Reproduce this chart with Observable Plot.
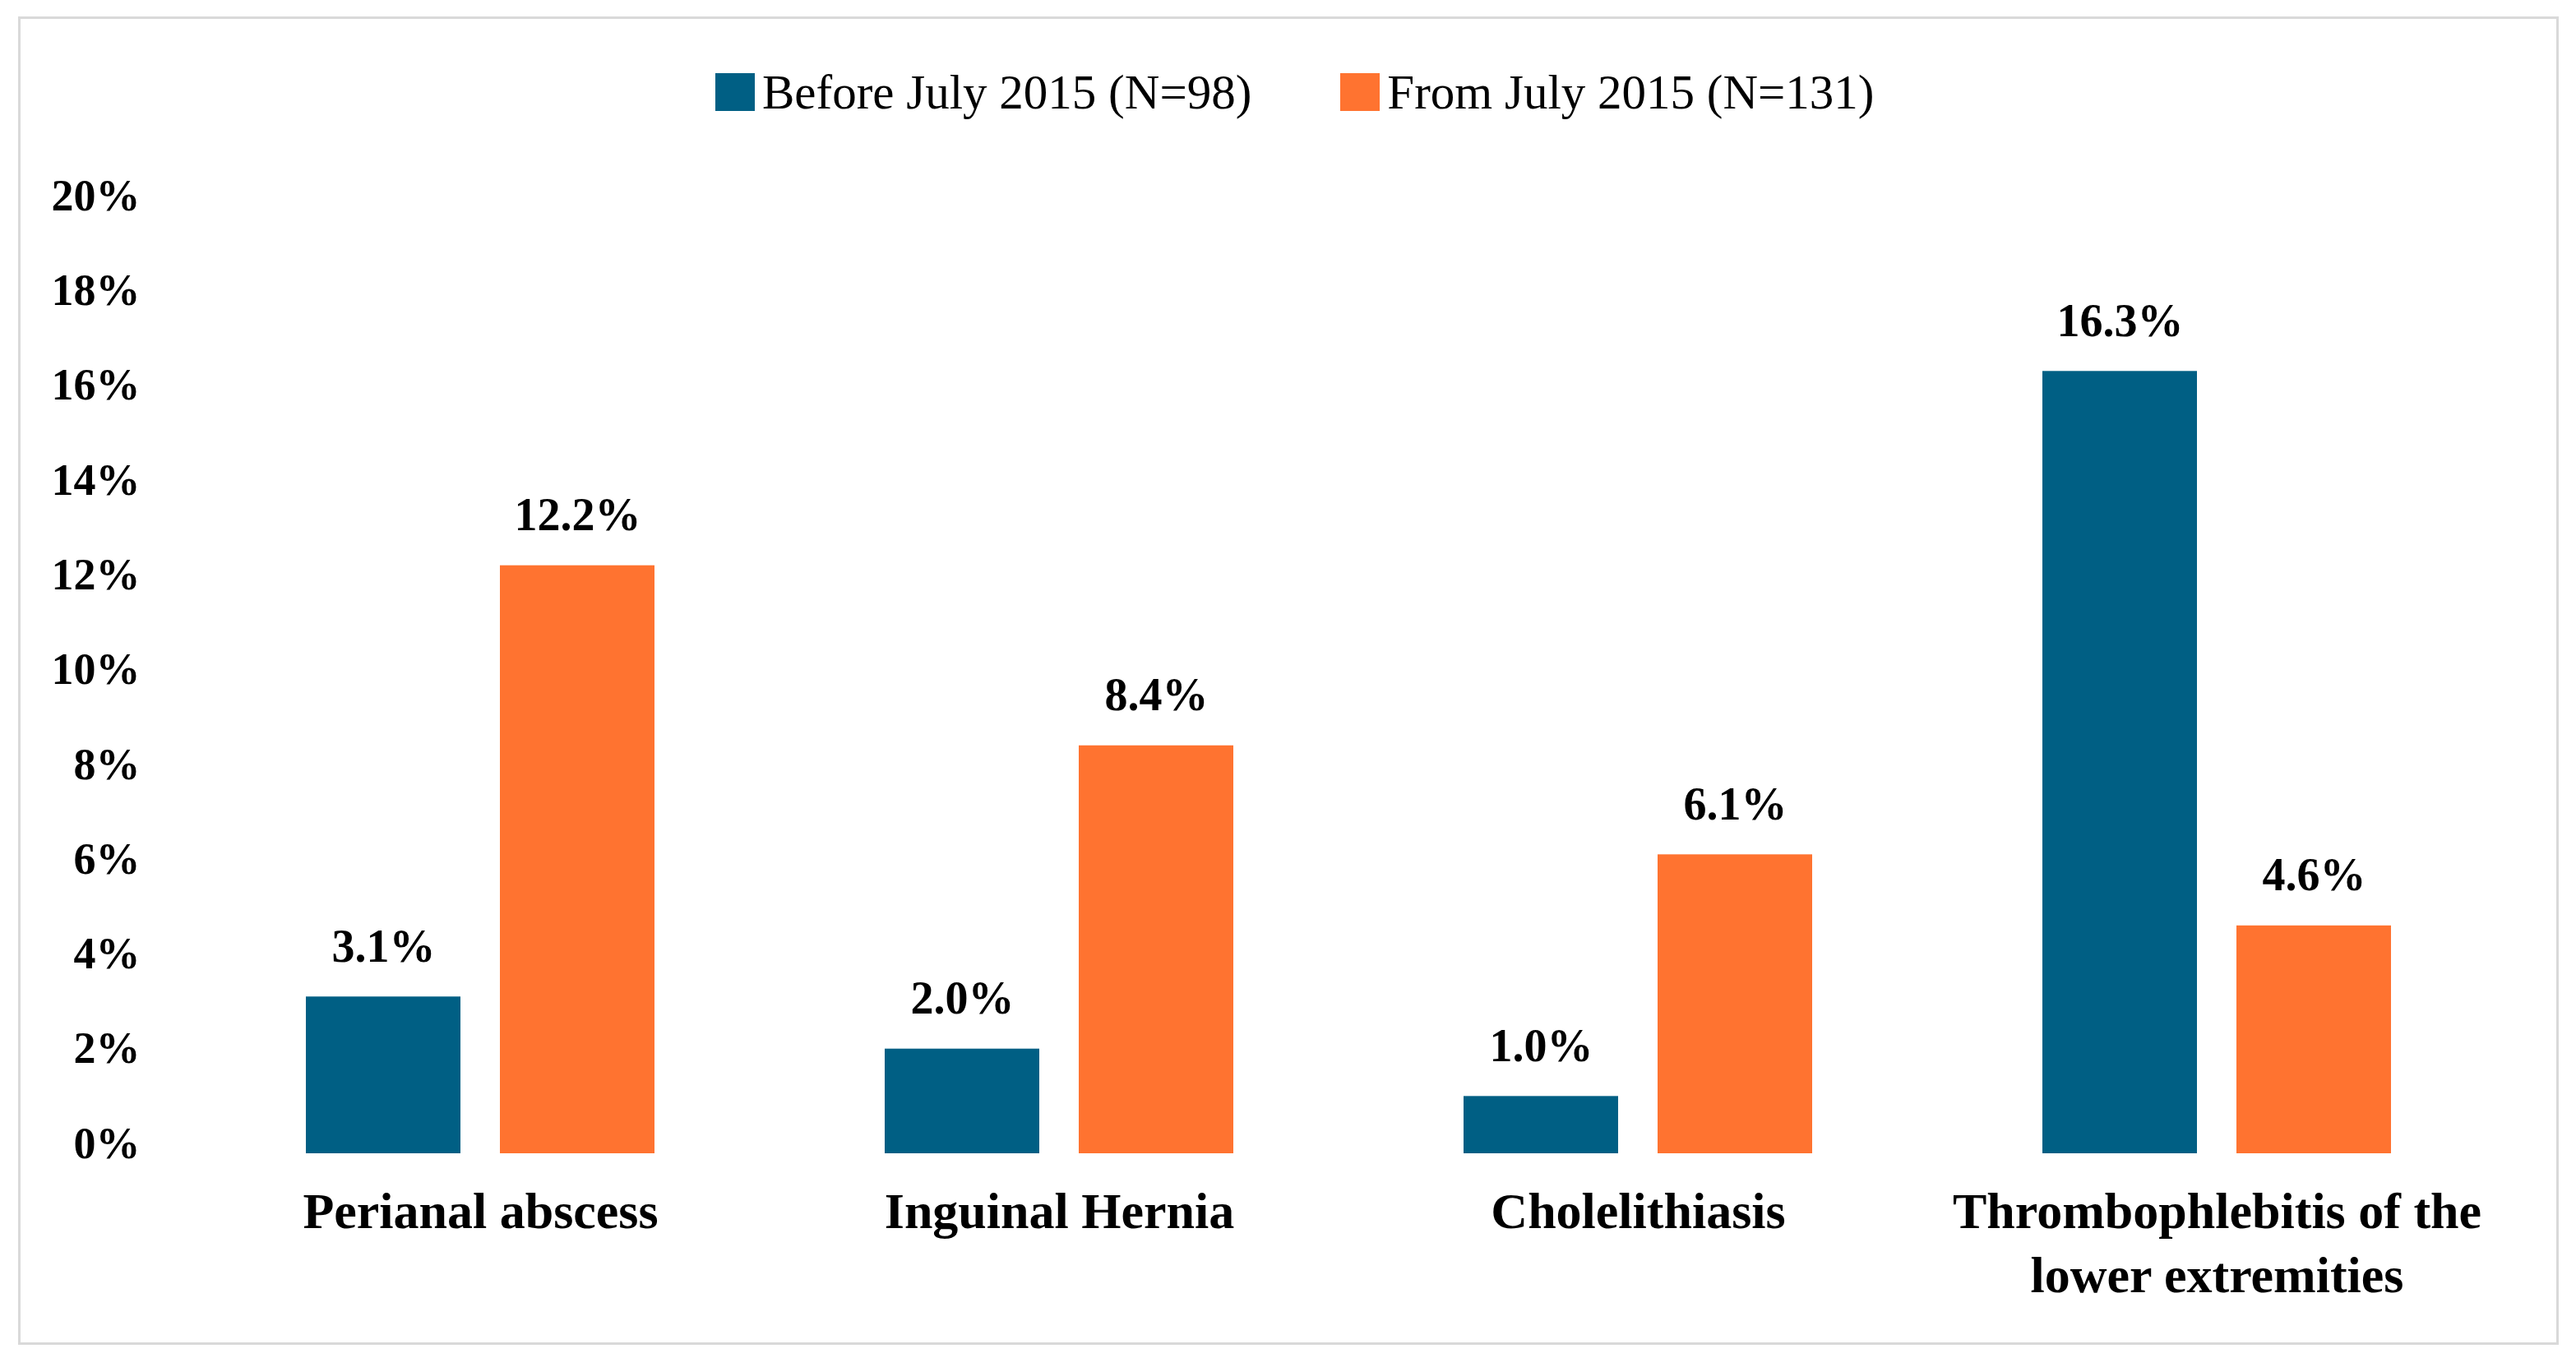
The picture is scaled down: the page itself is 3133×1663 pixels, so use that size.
<!DOCTYPE html>
<html><head><meta charset="utf-8">
<script src="https://cdn.jsdelivr.net/npm/d3@7"></script>
<script src="https://cdn.jsdelivr.net/npm/@observablehq/plot@0.6"></script>
<style>
body{margin:0;background:#fff;}
#frame{position:absolute;left:22px;top:20px;width:3090px;height:1616px;box-sizing:border-box;border:3px solid #d9d9d9;background:#fff;}
#legend{height:178px;display:flex;align-items:center;padding-left:845px;font-family:"Liberation Serif",serif;font-size:59px;color:#000;}
.item{display:flex;align-items:center;margin-right:108px;}
.sw{width:48px;height:46px;margin-right:9px;}
#chart svg{display:block;}
</style></head><body>
<div id="frame"><div id="legend"></div><div id="chart"></div></div>
<script>
const categories = ["Perianal abscess","Inguinal Hernia","Cholelithiasis","Thrombophlebitis of the lower extremities"];
const categoryLabels = ["Perianal abscess","Inguinal Hernia","Cholelithiasis","Thrombophlebitis of the\nlower extremities"];
const seriesNames = ["Before July 2015 (N=98)","From July 2015 (N=131)"];
const beforeValues = [3.1, 2.0, 1.0, 16.3];
const fromValues = [12.2, 8.4, 6.1, 4.6];
const yTicks = [0, 2, 4, 6, 8, 10, 12, 14, 16, 18, 20];
const colors = ["#005F84", "#FF7330"];

const data = [];
categories.forEach((c, i) => {
  data.push({category: c, series: seriesNames[0], value: beforeValues[i]});
  data.push({category: c, series: seriesNames[1], value: fromValues[i]});
});

// legend
const legend = document.getElementById("legend");
seriesNames.forEach((s, i) => {
  const it = document.createElement("div"); it.className = "item";
  const sw = document.createElement("div"); sw.className = "sw"; sw.style.background = colors[i];
  const t = document.createElement("span"); t.textContent = s;
  it.appendChild(sw); it.appendChild(t); legend.appendChild(it);
});

const chart = Plot.plot({
  width: 3084, height: 1420,
  marginTop: 37, marginBottom: 230, marginLeft: 207, marginRight: 61,
  style: {fontFamily: "Liberation Serif, serif", background: "white", color: "#000"},
  fx: {domain: categories, padding: 0, label: null},
  x: {domain: seriesNames, paddingInner: 0.2034, paddingOuter: 0.593, axis: null},
  y: {domain: [0, 20], label: null},
  color: {domain: seriesNames, range: colors},
  marks: [
    Plot.axisY({ticks: yTicks, tickSize: 0, tickPadding: 62, tickFormat: d => d + "%", fontSize: 54, fontWeight: "bold", label: null}),
    Plot.axisFx({anchor: "bottom", tickSize: 0, tickPadding: 47, tickFormat: c => categoryLabels[categories.indexOf(c)], fontSize: 62, fontWeight: "bold", lineHeight: 1.26, label: null}),
    Plot.barY(data, {fx: "category", x: "series", y: "value", fill: "series", insetBottom: -12}),
    Plot.text(data, {fx: "category", x: "series", y: "value", text: d => d.value.toFixed(1) + "%", lineAnchor: "bottom", dy: -43, fontSize: 56, fontWeight: "bold", fill: "#000"})
  ]
});
document.getElementById("chart").appendChild(chart);
</script>
</body></html>
